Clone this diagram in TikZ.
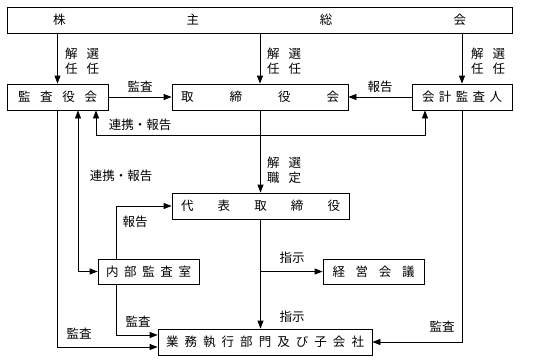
\documentclass[tikz,border=0pt]{standalone}
\usepackage{fontspec}
\setmainfont{Noto Sans CJK JP}
\usetikzlibrary{arrows.meta}
\newcommand{\spaced}[2]{\makebox[#1][s]{#2}}

\begin{document}
\begin{tikzpicture}[x=1pt, y=-1pt,
  box/.style   ={draw, line width=0.8pt, inner sep=0pt, minimum height=26pt,
                 font=\fontsize{12.5}{14}\selectfont},
  lbl/.style   ={font=\fontsize{12.5}{15}\selectfont, align=center, inner sep=0pt},
  conn/.style  ={line width=0.8pt},
  arr/.style   ={conn, -{Triangle[length=8pt,width=6pt]}},
  dblarr/.style={conn, {Triangle[length=8pt,width=6pt]}-{Triangle[length=8pt,width=6pt]}}
]
\useasboundingbox (0,0) rectangle (533,362);

%%% ---- BOXES ------------------------------------------------------------
% Row A: shareholders
\node[box, minimum width=505pt] (gm) at (259.5,20) {\spaced{413pt}{株\hfill 主\hfill 総\hfill 会}};

% Row B: kansayaku-kai, board, auditor
\node[box, minimum width=101pt] (kansa)   at (57.5,97) {\spaced{79pt}{監\hfill 査\hfill 役\hfill 会}};
\node[box, minimum width=176pt] (board)   at (260,97)  {\spaced{158pt}{取\hfill 締\hfill 役\hfill 会}};
\node[box, minimum width=100pt] (auditor) at (462,97)  {\spaced{80pt}{会\hfill 計\hfill 監\hfill 査\hfill 人}};

% Row C: representative director
\node[box, minimum width=177pt] (rep) at (260.5,206) {\spaced{159pt}{代\hfill 表\hfill 取\hfill 締\hfill 役}};

% Row D: internal audit, management meeting
\node[box, minimum width=101pt, minimum height=25pt] (internal) at (148.5,271.5) {\spaced{85pt}{内\hfill 部\hfill 監\hfill 査\hfill 室}};
\node[box, minimum width=101pt, minimum height=25pt] (mgmt)     at (373.5,271.5) {\spaced{82pt}{経\hfill 営\hfill 会\hfill 議}};

% Row E: operations
\node[box, minimum width=214pt] (ops) at (265,342) {\spaced{198pt}{業\hfill 務\hfill 執\hfill 行\hfill 部\hfill 門\hfill 及\hfill び\hfill 子\hfill 会\hfill 社}};

%%% ---- CONNECTORS -------------------------------------------------------
% election from the shareholders
\draw[arr] (gm.south -| kansa.north) -- (kansa.north);
\draw[arr] (gm.south -| board.north) -- (board.north);
\draw[arr] (gm.south -| auditor.north) -- (auditor.north);

% audit / report into the board
\draw[arr] (kansa.east) -- (board.west);
\draw[arr] (auditor.west) -- (board.east);

% cooperation between kansa and auditor
\coordinate (lnkL) at (96,135);
\coordinate (lnkR) at (425,135);
\draw[dblarr] (kansa.south -| lnkL) -- (lnkL) -- (lnkR) -- (auditor.south -| lnkR);

% cooperation between kansa and internal audit
\coordinate (intL) at (78,0);
\draw[dblarr] (kansa.south -| intL) |- (internal.west);

% board -> representative -> operations, branch to the meeting
\draw[arr] (board.south -| rep.north) -- (rep.north);
\draw[arr] (rep.south) -- (ops.north -| rep.south);
\coordinate (brc) at (rep.south |- mgmt.west);
\draw[arr] (brc) -- (mgmt.west);

% internal audit: report up, audit down
\coordinate (rptX) at (116,0);
\draw[arr] (internal.north -| rptX) |- (rep.west);
\draw[arr] (internal.south -| rptX) |- ([yshift=7pt]ops.west);

% audit of operations by kansa and auditor
\draw[arr] (kansa.south) |- ([yshift=-5pt]ops.west);
\draw[arr] (auditor.south) |- (ops.east);

%%% ---- LABELS -----------------------------------------------------------
\node[lbl] (selA) at (82,61)   {解\hspace{9pt}選\\任\hspace{9pt}任};
\node[lbl] (selB) at (284,61)  {解\hspace{9pt}選\\任\hspace{9pt}任};
\node[lbl] (selC) at (488,61)  {解\hspace{9pt}選\\任\hspace{9pt}任};
\node[lbl] (audA) at (140,87)  {監査};
\node[lbl] (rptA) at (380,87)  {報告};
\node[lbl] (coopA) at (140,125) {連携・報告};
\node[lbl] (selD) at (284,170) {解\hspace{9pt}選\\職\hspace{9pt}定};
\node[lbl] (coopB) at (121,176) {連携・報告};
\node[lbl] (rptB) at (135,222) {報告};
\node[lbl] (insA) at (292,258) {指示};
\node[lbl] (insB) at (292,317) {指示};
\node[lbl] (audB) at (138,322) {監査};
\node[lbl] (audC) at (79,334)  {監査};
\node[lbl] (audD) at (442,327) {監査};

\end{tikzpicture}
\end{document}
